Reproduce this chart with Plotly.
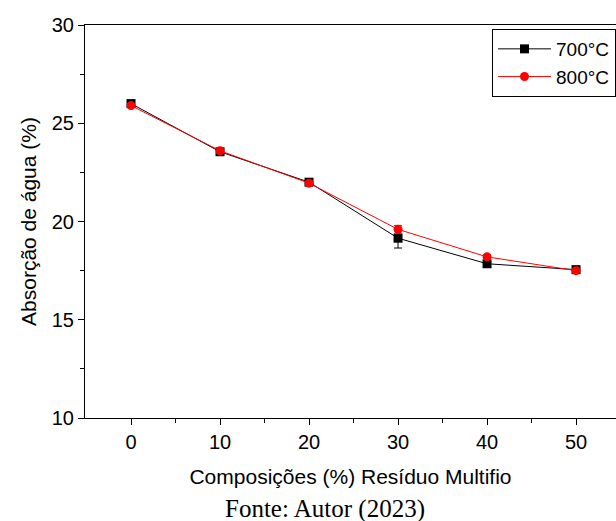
import plotly.graph_objects as go

compositions = [0, 10, 20, 30, 40, 50]
abs_700 = [26.0, 23.55, 22.0, 19.15, 17.85, 17.55]
err_700 = [0.1, 0.1, 0.1, 0.5, 0.1, 0.1]
abs_800 = [25.9, 23.6, 21.95, 19.6, 18.2, 17.5]
err_800 = [0.1, 0.1, 0.1, 0.2, 0.1, 0.1]
names = ["700°C", "800°C"]

W, H = 616, 521
L, R, T, B = 85, 0, 25, 103

fig = go.Figure()
fig.add_trace(go.Scatter(
    x=compositions, y=abs_700, name=names[0], mode="lines+markers",
    line=dict(color="black", width=1),
    marker=dict(symbol="square", size=9, color="black"),
    error_y=dict(type="data", array=err_700, color="black", thickness=1, width=4),
))
fig.add_trace(go.Scatter(
    x=compositions, y=abs_800, name=names[1], mode="lines+markers",
    line=dict(color="red", width=1),
    marker=dict(symbol="circle", size=9, color="red"),
    error_y=dict(type="data", array=err_800, color="red", thickness=1, width=4),
))

font_sans = "Liberation Sans, Arial, sans-serif"
fig.update_layout(
    width=W, height=H,
    margin=dict(l=L, r=R, t=T, b=B),
    paper_bgcolor="white", plot_bgcolor="white",
    font=dict(family=font_sans, size=19, color="black"),
    showlegend=True,
    legend=dict(
        x=(492 - L) / (W - L - R), y=(418 - 29) / (521 - T - B),
        xanchor="left", yanchor="top",
        bordercolor="black", borderwidth=1, bgcolor="white",
        font=dict(size=19, family=font_sans),
        itemwidth=53, tracegroupgap=0,
        entrywidth=140, entrywidthmode="pixels",
    ),
    xaxis=dict(
        range=[-5.17, 54.49], showline=True, linecolor="black", linewidth=1,
        mirror=True, showgrid=False, zeroline=False,
        tickmode="array", tickvals=[0, 10, 20, 30, 40, 50],
        ticks="outside", ticklen=6, tickcolor="black",
        minor=dict(tickmode="array", tickvals=[5, 15, 25, 35, 45], ticks="outside", ticklen=4, tickcolor="black"),
        title=dict(text="Composições (%) Resíduo Multifio", font=dict(size=21), standoff=17),
        tickfont=dict(size=20),
    ),
    yaxis=dict(
        range=[10, 30], showline=True, linecolor="black", linewidth=1,
        mirror=False, showgrid=False, zeroline=False,
        tickmode="array", tickvals=[10, 15, 20, 25, 30],
        ticks="outside", ticklen=6, tickcolor="black",
        minor=dict(tickmode="array", tickvals=[12.5, 17.5, 22.5, 27.5], ticks="outside", ticklen=4, tickcolor="black"),
        title=dict(text="Absorção de água (%)", font=dict(size=21), standoff=9),
        tickfont=dict(size=20),
    ),
    annotations=[dict(
        text="Fonte: Autor (2023)", xref="paper", yref="paper",
        x=(325 - L) / (W - L - R), y=(418 - 509) / (521 - T - B),
        xanchor="center", yanchor="middle", showarrow=False,
        font=dict(family="Liberation Serif, Times New Roman, serif", size=25, color="black"),
    )],
)

fig.write_html("out.html")
